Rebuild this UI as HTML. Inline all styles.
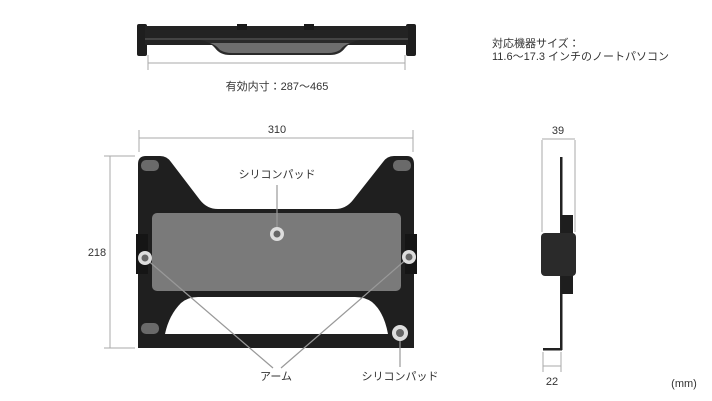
<!DOCTYPE html>
<html><head><meta charset="utf-8"><style>
html,body{margin:0;padding:0;background:#fff;width:712px;height:401px;overflow:hidden}
svg text{font-family:"Liberation Sans","Noto Sans CJK JP",sans-serif;fill:#333;font-size:11px}
</style></head><body>
<svg width="712" height="401" viewBox="0 0 712 401" xmlns="http://www.w3.org/2000/svg">
<!-- top view -->
<rect x="137" y="24" width="10" height="32" rx="2" fill="#1e1e1e"/>
<rect x="406" y="24" width="10" height="32" rx="2" fill="#1e1e1e"/>
<rect x="145" y="26" width="263" height="19" fill="#232323"/>
<rect x="237" y="24" width="10" height="6" fill="#1a1a1a"/>
<rect x="304" y="24" width="10" height="6" fill="#1a1a1a"/>
<rect x="145" y="38" width="263" height="2" fill="#444"/>
<path d="M198 40 Q208 40 215 48 Q220 55 230 55 L330 55 Q340 55 345 48 Q352 40 362 40 Z" fill="#2a2a2a"/>
<path d="M210 43 Q216 45 220 50 Q225 53 232 53 L328 53 Q335 53 340 50 Q344 45 350 43 Z" fill="#6e6e6e"/>
<line x1="148" y1="63" x2="405" y2="63" stroke="#aaa" stroke-width="1"/>
<line x1="148" y1="55" x2="148" y2="70" stroke="#aaa"/>
<line x1="405" y1="55" x2="405" y2="70" stroke="#aaa"/>
<text x="277" y="90" text-anchor="middle">有効内寸：287〜465</text>
<text x="492" y="47">対応機器サイズ：</text>
<text x="492" y="60">11.6〜17.3 インチのノートパソコン</text>
<!-- front view dims -->
<line x1="139" y1="138" x2="413" y2="138" stroke="#aaa"/>
<line x1="139" y1="130" x2="139" y2="152" stroke="#aaa"/>
<line x1="413" y1="130" x2="413" y2="152" stroke="#aaa"/>
<text x="277" y="133" text-anchor="middle">310</text>
<line x1="110" y1="156" x2="110" y2="348" stroke="#aaa"/>
<line x1="104" y1="156" x2="135" y2="156" stroke="#aaa"/>
<line x1="104" y1="348" x2="135" y2="348" stroke="#aaa"/>
<text x="97" y="256" text-anchor="middle">218</text>
<!-- plate -->
<path d="M138 164 Q138 156 146 156 L160 156 Q167 156 171 162 L200 200 Q207 209 218 209 L335 209 Q346 209 353 200 L383 162 Q387 156 394 156 L407 156 Q414 156 414 164 L414 348 L138 348 Z" fill="#1f1f1f"/>
<rect x="152" y="213" width="249" height="78" rx="5" fill="#7a7a7a"/>
<path d="M165 334 L388 334 Q384 312 372 302 Q365 297 355 297 L198 297 Q188 297 181 303 Q169 315 165 334 Z" fill="#fff"/>
<rect x="138" y="340" width="276" height="8" fill="#1f1f1f"/>
<rect x="141" y="160" width="18" height="11" rx="5" fill="#6a6a6a"/>
<rect x="393" y="160" width="18" height="11" rx="5" fill="#6a6a6a"/>
<rect x="141" y="323" width="18" height="11" rx="5" fill="#6a6a6a"/>
<rect x="136" y="234" width="12" height="40" fill="#151515"/>
<rect x="405" y="234" width="12" height="40" fill="#151515"/>
<!-- leaders -->
<g stroke="#999" stroke-width="1.2" fill="none">
<line x1="277" y1="185" x2="277" y2="232"/>
<line x1="145" y1="258" x2="273" y2="368"/>
<line x1="409" y1="257" x2="281" y2="368"/>
<line x1="400" y1="333" x2="400" y2="367"/>
</g>
<circle cx="277" cy="234" r="7" fill="#ddd"/><circle cx="277" cy="234" r="3.5" fill="#666"/>
<circle cx="145" cy="258" r="7" fill="#ddd"/><circle cx="145" cy="258" r="3.5" fill="#666"/>
<circle cx="409" cy="257" r="7" fill="#ddd"/><circle cx="409" cy="257" r="3.5" fill="#666"/>
<circle cx="400" cy="333" r="8" fill="#ddd"/><circle cx="400" cy="333" r="4" fill="#666"/>
<text x="277" y="178" text-anchor="middle">シリコンパッド</text>
<text x="276" y="380" text-anchor="middle">アーム</text>
<text x="400" y="380" text-anchor="middle">シリコンパッド</text>
<!-- side view -->
<line x1="542" y1="140" x2="542" y2="232" stroke="#aaa"/>
<line x1="575" y1="140" x2="575" y2="232" stroke="#aaa"/>
<line x1="542" y1="139" x2="575" y2="139" stroke="#aaa"/>
<text x="558" y="134" text-anchor="middle">39</text>
<rect x="560" y="157" width="2.5" height="193" fill="#222"/>
<rect x="561" y="215" width="12" height="20" fill="#1e1e1e"/>
<rect x="561" y="272" width="12" height="22" fill="#1e1e1e"/>
<rect x="541" y="233" width="35" height="43" rx="4" fill="#2a2a2a"/>
<rect x="543" y="348" width="19" height="2.5" fill="#222"/>
<line x1="543" y1="352" x2="543" y2="372" stroke="#aaa"/>
<line x1="561" y1="352" x2="561" y2="372" stroke="#aaa"/>
<line x1="543" y1="366" x2="561" y2="366" stroke="#aaa"/>
<text x="552" y="385" text-anchor="middle">22</text>
<text x="684" y="387" text-anchor="middle" font-size="10">(mm)</text>
</svg>
</body></html>
